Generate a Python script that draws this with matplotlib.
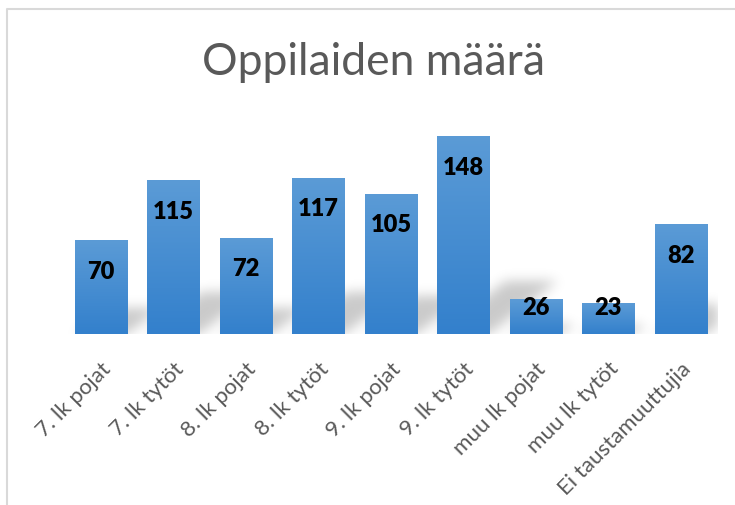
import matplotlib
matplotlib.use('Agg')
import matplotlib.pyplot as plt
from matplotlib.colors import LinearSegmentedColormap
from matplotlib.lines import Line2D
import numpy as np

categories = ['7. lk pojat', '7. lk tytöt', '8. lk pojat', '8. lk tytöt', '9. lk pojat',
              '9. lk tytöt', 'muu lk pojat', 'muu lk tytöt', 'Ei taustamuuttujia']
counts = [70, 115, 72, 117, 105, 148, 26, 23, 82]
title = 'Oppilaiden määrä'

plt.rcParams['font.family'] = ['Lato', 'DejaVu Sans']

fig = plt.figure(figsize=(7.35, 5.06), dpi=100)
ax = fig.add_axes([0.0881, 0.3375, 0.8874, 0.421])
ax.set_xlim(-0.5, len(categories) - 0.5)
ax.set_ylim(0, 160)

x = np.arange(len(categories))
bars = ax.bar(x, counts, width=0.72, facecolor='none', edgecolor='none', zorder=3)

# soft shadow behind the bars (skewed, blurred)
W, H = 652, 213
xs = np.linspace(-0.5, len(categories) - 0.5, W)
ys = np.linspace(0, 160, H)
gx, gy = np.meshgrid(xs, ys)
mask = np.zeros((H, W))
for b in bars:
    x0, x1, h = b.get_x(), b.get_x() + b.get_width(), b.get_height()
    top = 0.27 * h
    shift = 0.0064 * h
    t = np.clip(gy / top, 0, 1)
    inside = (gy <= top) & (gx >= x0 + t * shift) & (gx <= x1 + t * shift)
    mask[inside] = 1.0
sig = 6
k = np.arange(-3 * sig, 3 * sig + 1)
kern = np.exp(-k ** 2 / (2 * sig ** 2))
kern /= kern.sum()
pad = np.pad(mask, 3 * sig, mode='constant')
pad = np.apply_along_axis(lambda r: np.convolve(r, kern, mode='same'), 1, pad)
pad = np.apply_along_axis(lambda c: np.convolve(c, kern, mode='same'), 0, pad)
blur = pad[3 * sig:-3 * sig, 3 * sig:-3 * sig]
shadow = np.zeros((H, W, 4))
shadow[..., 3] = blur * 0.21
ax.imshow(shadow, extent=(-0.5, len(categories) - 0.5, 0, 160), origin='lower',
          aspect='auto', zorder=1, interpolation='bilinear')

# gradient fill for each bar
cmap = LinearSegmentedColormap.from_list('bar', ['#3380cc', '#5b9bd6'])
grad = np.linspace(0, 1, 256).reshape(-1, 1)
for b, v in zip(bars, counts):
    ax.imshow(grad, extent=(b.get_x(), b.get_x() + b.get_width(), 0, v), origin='lower',
              cmap=cmap, aspect='auto', zorder=3)
    ax.text(b.get_x() + b.get_width() / 2, max(v - 22.5, 20.5), str(v), ha='center',
            va='center', fontsize=17, fontweight='heavy', color='black', zorder=4)

ax.set_xlim(-0.5, len(categories) - 0.5)
ax.set_ylim(0, 160)
ax.set_xticks(x)
ax.set_xticklabels(categories, rotation=45, ha='right', rotation_mode='anchor',
                   fontsize=16, color='#595959')
ax.tick_params(axis='x', length=0, pad=17)
ax.set_yticks([])
for s in ax.spines.values():
    s.set_visible(False)

fig.text(0.508, 0.877, title, ha='center', va='center', fontsize=32, color='#595959')

# chart area border (left and top visible)
fig.add_artist(Line2D([7 / 735, 7 / 735, 1.0], [0.0, 1 - 10 / 506, 1 - 10 / 506],
                      transform=fig.transFigure, color='#d9d9d9', linewidth=1.5))

fig.savefig('out.png', dpi=100)
